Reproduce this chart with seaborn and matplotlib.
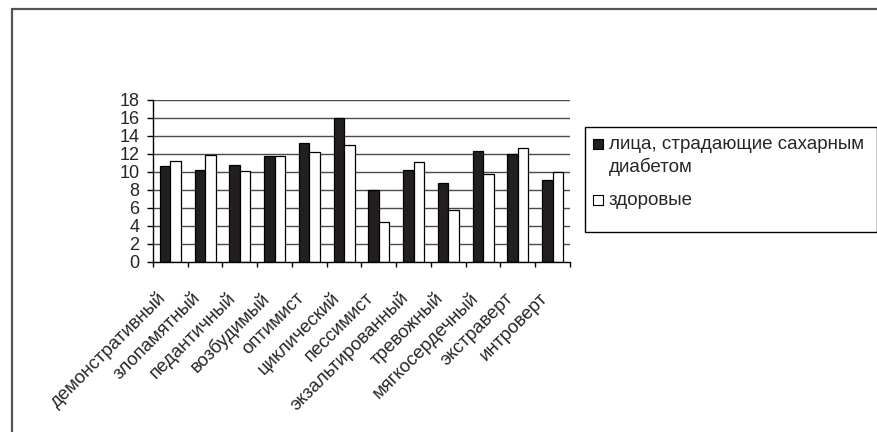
import textwrap
import matplotlib
matplotlib.use("Agg")
import matplotlib.pyplot as plt
from matplotlib.patches import Rectangle
from matplotlib.transforms import ScaledTranslation
import seaborn as sns
import pandas as pd

categories = ["демонстративный", "злопамятный", "педантичный", "возбудимый",
              "оптимист", "циклический", "пессимист", "экзальтированный",
              "тревожный", "мягкосердечный", "экстраверт", "интроверт"]
diabetes = [10.6, 10.2, 10.8, 11.7, 13.2, 16.0, 8.0, 10.2, 8.8, 12.3, 12.0, 9.1]
healthy = [11.2, 11.8, 10.1, 11.7, 12.2, 13.0, 4.4, 11.1, 5.8, 9.8, 12.6, 10.0]
series_names = ["лица, страдающие сахарным диабетом", "здоровые"]
series_colors = ["#231f20", "white"]
yticks = list(range(0, 19, 2))

df = pd.DataFrame({
    "category": categories * 2,
    "value": diabetes + healthy,
    "group": [series_names[0]] * len(categories) + [series_names[1]] * len(categories),
})

sns.set_style("white")
plt.rcParams["font.family"] = ["Liberation Sans", "DejaVu Sans"]

W, H = 878, 432
fig = plt.figure(figsize=(W / 100, H / 100), dpi=100)
ax = fig.add_axes([153 / W, 1 - 262 / H, (570 - 153) / W, (262 - 99.5) / H])

ax.set_axisbelow(True)
for v in yticks[1:]:
    ax.axhline(v, color="#4a4a4a", lw=1.0, zorder=0)

sns.barplot(data=df, x="category", y="value", hue="group",
            palette=series_colors, edgecolor="black", linewidth=0.9,
            width=0.6, gap=0, errorbar=None, legend=False, ax=ax,
            saturation=1)

ax.set_xlim(-0.5, len(categories) - 0.5)
ax.set_ylim(0, 18)
ax.set_yticks(yticks)
ax.set_yticklabels([str(v) for v in yticks], fontsize=13)
ax.set_xticks([i - 0.5 for i in range(len(categories) + 1)], minor=False)
ax.set_xticklabels([])
ax.set_xticks(range(len(categories)), minor=True)
ax.set_xticklabels(categories, minor=True, rotation=45, ha="right",
                   va="center", rotation_mode="anchor", fontsize=13.4)
ax.tick_params(axis="x", which="major", direction="out", length=3.5,
               width=1, color="black", bottom=True)
ax.tick_params(axis="x", which="minor", length=0, pad=24)
ax.tick_params(axis="y", direction="out", length=4.3, width=1,
               color="black", left=True, pad=5.5)
shift = ScaledTranslation(-0.075, 0, fig.dpi_scale_trans)
for lab in ax.get_xticklabels(minor=True):
    lab.set_transform(lab.get_transform() + shift)
ax.set_xlabel("")
ax.set_ylabel("")
for side in ["top", "right"]:
    ax.spines[side].set_visible(False)
for side in ["left", "bottom"]:
    ax.spines[side].set_color("black")
    ax.spines[side].set_linewidth(1)


def fx(px):
    return px / W


def fy(py):
    return 1 - py / H


# outer chart frame
fig.patches.append(Rectangle((fx(12), -0.1), 1.2, fy(9) + 0.1,
                             transform=fig.transFigure, fill=False,
                             edgecolor="#555555", lw=1.6))

# legend box with its keys and labels
fig.patches.append(Rectangle((fx(585), fy(232)), fx(877 - 585), (232 - 127) / H,
                             transform=fig.transFigure, fill=False,
                             edgecolor="black", lw=1.0))
key_tops = [139, 195]
for color, top, name in zip(series_colors, key_tops, series_names):
    fig.patches.append(Rectangle((fx(593), fy(top + 10)), fx(10), 10 / H,
                                 transform=fig.transFigure, facecolor=color,
                                 edgecolor="black", lw=0.8))
    for k, line in enumerate(textwrap.wrap(name, 26)):
        fig.text(fx(609), fy(top + 10 + 23 * k), line, fontsize=13.5,
                 va="baseline", ha="left")

fig.savefig("out.png", dpi=100, facecolor="white")
